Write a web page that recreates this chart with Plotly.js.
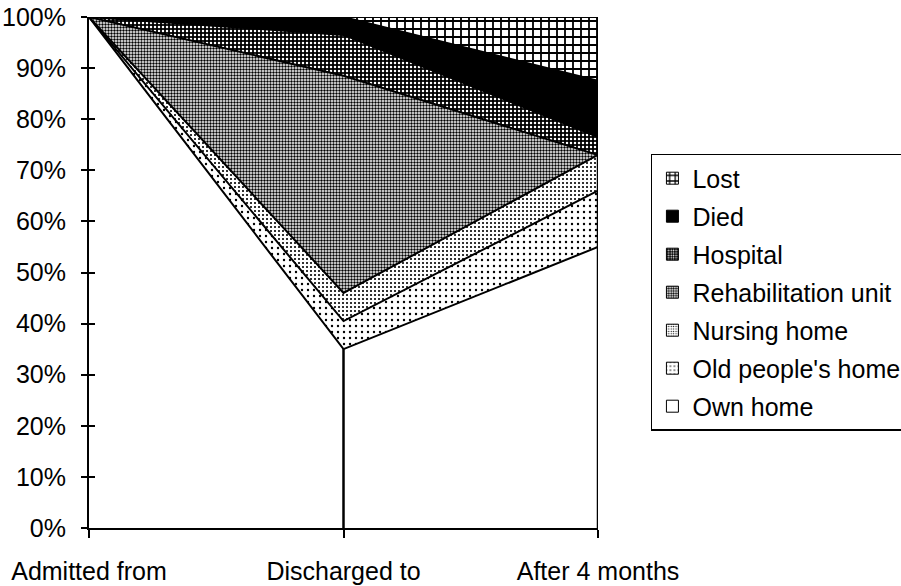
<!DOCTYPE html>
<html>
<head>
<meta charset="utf-8">
<script src="https://cdn.plot.ly/plotly-3.0.1.min.js"></script>
<style>html,body{margin:0;padding:0;background:#fff;}</style>
</head>
<body>
<div id="chart" style="width:901px;height:586px;"></div>
<script>
const categories = ['Admitted from', 'Discharged to', 'After 4 months'];
const ownHome      = [100, 35, 55];
const oldPeoples   = [0, 5.5, 11];
const nursingHome  = [0, 5.5, 7];
const rehabUnit    = [0, 42.5, 0];
const hospital     = [0, 8, 3.5];
const died         = [0, 3.5, 11];
const lost         = [0, 0, 12.5];
const seriesNames = ['Own home', "Old people's home", 'Nursing home', 'Rehabilitation unit', 'Hospital', 'Died', 'Lost'];
const seriesValues = [ownHome, oldPeoples, nursingHome, rehabUnit, hospital, died, lost];

const patterns = [
  {shape: '', bgcolor: '#ffffff', fgcolor: '#ffffff', solid: '#ffffff'},
  {shape: '.', bgcolor: '#ffffff', fgcolor: '#000000', size: 6, solidity: 0.12},
  {shape: '.', bgcolor: '#ffffff', fgcolor: '#000000', size: 4, solidity: 0.22},
  {shape: '.', bgcolor: '#ffffff', fgcolor: '#000000', size: 3, solidity: 0.5},
  {shape: '.', bgcolor: '#000000', fgcolor: '#ffffff', size: 4, solidity: 0.3},
  {shape: '', bgcolor: '#000000', fgcolor: '#000000', solid: '#000000'},
  {shape: '+', bgcolor: '#ffffff', fgcolor: '#000000', size: 8, solidity: 0.4}
];

const traces = [];
seriesNames.forEach((name, i) => {
  const p = patterns[i];
  const t = {
    type: 'scatter', mode: 'lines', x: categories, y: seriesValues[i],
    name: name, stackgroup: 'one', showlegend: false, hoverinfo: 'skip',
    line: {color: '#000', width: 2},
    fillcolor: p.solid || p.bgcolor
  };
  if (p.shape) {
    t.fillpattern = {shape: p.shape, bgcolor: p.bgcolor, fgcolor: p.fgcolor, size: p.size, solidity: p.solidity, fillmode: 'replace'};
  }
  traces.push(t);
});

// vertical drop lines from data
const totalAfter = seriesValues.reduce((s, v) => s + v[2], 0);
traces.push({type: 'scatter', mode: 'lines', x: [categories[1], categories[1]], y: [0, ownHome[1]],
  line: {color: '#000', width: 2.5}, showlegend: false, hoverinfo: 'skip'});
traces.push({type: 'scatter', mode: 'lines', x: [categories[2], categories[2]], y: [0, totalAfter],
  line: {color: '#000', width: 2.5}, showlegend: false, hoverinfo: 'skip'});

// legend entries (reverse order: Lost first), zero-height bars on a hidden axis pair
for (let i = seriesNames.length - 1; i >= 0; i--) {
  const p = patterns[i];
  const m = {color: p.solid || p.bgcolor, line: {color: '#000', width: 1}};
  if (p.shape) m.pattern = {shape: p.shape, bgcolor: p.bgcolor, fgcolor: p.fgcolor, size: Math.max(3, p.size - 1), solidity: p.solidity, fillmode: 'replace'};
  traces.push({type: 'bar', x: [0], y: [0], xaxis: 'x2', yaxis: 'y3', name: seriesNames[i],
    legendgroup: 'g' + i, marker: m, showlegend: true, hoverinfo: 'skip'});
}

// dummy trace for inside ticks on y2
traces.push({type: 'scatter', x: [categories[0]], y: [0], yaxis: 'y2', mode: 'markers', marker: {opacity: 0}, showlegend: false, hoverinfo: 'skip'});

const font = {family: 'Liberation Sans, Arial, sans-serif', size: 25, color: '#000'};
const layout = {
  width: 901, height: 586, autosize: false,
  margin: {l: 89, r: 303, t: 17, b: 58, pad: 0, autoexpand: false},
  paper_bgcolor: '#fff', plot_bgcolor: 'rgba(0,0,0,0)',
  font: font,
  showlegend: true,
  legend: {
    x: 1.104, y: 0.732, xanchor: 'left', yanchor: 'top',
    bordercolor: '#000', borderwidth: 1.5, bgcolor: '#fff',
    font: {family: 'Liberation Sans, Arial, sans-serif', size: 25, color: '#000'},
    traceorder: 'grouped', itemwidth: 30, tracegroupgap: 2.5
  },
  xaxis: {
    type: 'category', range: [0, 2], showgrid: false, zeroline: false,
    showline: true, linecolor: '#000', linewidth: 2,
    ticks: 'outside', ticklen: 8, tickwidth: 2, tickcolor: '#000',
    ticklabelstandoff: 12, tickfont: font, fixedrange: true
  },
  xaxis2: {visible: false, range: [10, 11], overlaying: 'x', fixedrange: true},
  yaxis: {
    range: [0, 100], dtick: 10, ticksuffix: '%', showgrid: false, zeroline: false,
    showline: true, linecolor: '#000', linewidth: 2,
    ticks: 'outside', ticklen: 6, tickwidth: 2, tickcolor: '#000',
    ticklabelstandoff: 10, tickfont: font, fixedrange: true
  },
  yaxis2: {
    range: [0, 100], dtick: 10, overlaying: 'y', side: 'left', showgrid: false, zeroline: false,
    showline: false, ticks: 'inside', ticklen: 6, tickwidth: 2, tickcolor: '#000',
    showticklabels: false, fixedrange: true
  },
  yaxis3: {visible: false, range: [10, 11], overlaying: 'y', fixedrange: true}
};

Plotly.newPlot('chart', traces, layout, {displayModeBar: false, staticPlot: true});
</script>
</body>
</html>
